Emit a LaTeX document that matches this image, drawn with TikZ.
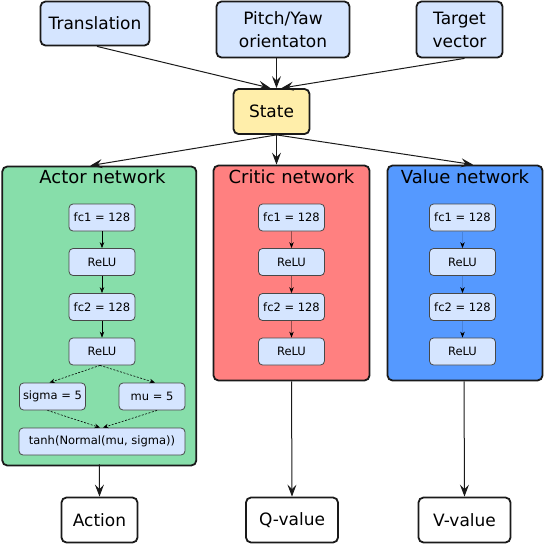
\documentclass[tikz,border=0pt]{standalone}
\usepackage{fontspec}
\setmainfont{DejaVu Sans}
\usetikzlibrary{arrows.meta,calc}
\definecolor{boxblue}{HTML}{D5E5FF}
\definecolor{stateyel}{HTML}{FFEEAA}
\definecolor{actorg}{HTML}{87DEAA}
\definecolor{criticr}{HTML}{FF8080}
\definecolor{valueb}{HTML}{5599FF}
\definecolor{edge}{HTML}{1A1A1A}
\begin{document}
\begin{tikzpicture}[x=1pt,y=-1pt,
  bigbox/.style={draw=edge,line width=1.8pt,rounded corners=5pt,inner sep=0pt,align=center,
    font=\fontsize{17}{23}\selectfont},
  netbox/.style={draw=edge,line width=1.8pt,rounded corners=5pt,inner sep=0pt},
  nettitle/.style={font=\fontsize{18}{22}\selectfont,inner sep=0pt},
  layer/.style={draw=edge!80,line width=0.8pt,fill=boxblue,rounded corners=4pt,inner sep=0pt,
    minimum width=66pt,minimum height=27pt,font=\fontsize{11.5}{13}\selectfont},
  bigarrow/.style={draw=edge,line width=1pt,-{Stealth[length=12pt,width=9pt,inset=4.5pt]}},
  smallarrow/.style={line width=0.6pt,-{Stealth[length=6pt,width=4.5pt,inset=2pt,black]}},
  dasharrow/.style={draw=black,line width=0.6pt,dash pattern=on 2pt off 1.5pt,
    -{Stealth[length=5.5pt,width=4.5pt,inset=2pt]}}
]
\useasboundingbox (0,0) rectangle (544,544);

% inputs
\node[bigbox,fill=boxblue,minimum width=109pt,minimum height=44pt] (trans) at (95,23.5) {Translation};
\node[bigbox,fill=boxblue,minimum width=133pt,minimum height=56pt] (pitch) at (283,29.5) {Pitch/Yaw\\orientaton};
\node[bigbox,fill=boxblue,minimum width=86pt,minimum height=56pt] (target) at (459.5,29.5) {Target\\vector};
\node[bigbox,fill=stateyel,minimum width=76pt,minimum height=45pt] (state) at (271.5,111.5) {State};

% network boxes
\node[netbox,fill=actorg,minimum width=194pt,minimum height=299pt] (actor) at (99.3,316) {};
\node[netbox,fill=criticr,minimum width=156pt,minimum height=215pt] (critic) at (291.5,273) {};
\node[netbox,fill=valueb,minimum width=155pt,minimum height=215pt] (value) at (465,273) {};
\node[nettitle] (atitle) at (102.5,177) {Actor network};
\node[nettitle] (ctitle) at (291.5,177) {Critic network};
\node[nettitle] (vtitle) at (465,177) {Value network};

% actor layers
\node[layer] (afc1) at (102,217.5) {fc1 = 128};
\node[layer] (arelu1) at (102,262) {ReLU};
\node[layer] (afc2) at (102,307) {fc2 = 128};
\node[layer] (arelu2) at (102,351.5) {ReLU};
\node[layer] (sigma) at (52.5,396.5) {sigma = 5};
\node[layer] (mu) at (152,396.5) {mu = 5};
\node[layer,minimum width=166pt] (tanh) at (102,441.5) {tanh(Normal(mu, sigma))};

% critic layers
\node[layer] (cfc1) at (291.5,217.5) {fc1 = 128};
\node[layer] (crelu1) at (291.5,262) {ReLU};
\node[layer] (cfc2) at (291.5,307) {fc2 = 128};
\node[layer] (crelu2) at (291.5,351.5) {ReLU};

% value layers
\node[layer] (vfc1) at (462.5,217.5) {fc1 = 128};
\node[layer] (vrelu1) at (462.5,262) {ReLU};
\node[layer] (vfc2) at (462.5,307) {fc2 = 128};
\node[layer] (vrelu2) at (462.5,351.5) {ReLU};

% outputs
\node[bigbox,fill=white,minimum width=76pt,minimum height=45pt] (action) at (99.5,520) {Action};
\node[bigbox,fill=white,minimum width=92pt,minimum height=45pt] (qval) at (292,520) {Q-value};
\node[bigbox,fill=white,minimum width=92pt,minimum height=45pt] (vval) at (464.5,520) {V-value};

% top arrows
\draw[bigarrow] ([xshift=2pt]trans.south) -- ([xshift=-1pt]state.north);
\draw[bigarrow] ([xshift=-6.5pt]pitch.south) -- ([xshift=5pt]state.north);
\draw[bigarrow] ([xshift=5pt]target.south) -- ([xshift=10pt]state.north);
\draw[bigarrow] ([xshift=5pt]state.south) -- ([xshift=-9pt]actor.north);
\draw[bigarrow] ([xshift=5pt]state.south) -- ([xshift=-15pt]critic.north);
\draw[bigarrow] ([xshift=5pt]state.south) -- ([xshift=8pt]value.north);

% bottom arrows
\draw[bigarrow] ([yshift=2pt]actor.south) -- (action.north);
\draw[bigarrow] (critic.south) -- (qval.north);
\draw[bigarrow] ([xshift=-1pt]value.south) -- (vval.north);

% actor inner arrows
\draw[smallarrow,draw=black] (afc1) -- (arelu1);
\draw[smallarrow,draw=black] (arelu1) -- (afc2);
\draw[smallarrow,draw=black] (afc2) -- (arelu2);
\draw[dasharrow] ([xshift=-2pt]arelu2.south) -- ([xshift=-3pt]sigma.north);
\draw[dasharrow] ([xshift=-2pt]arelu2.south) -- ([xshift=3pt]mu.north);
\draw[dasharrow] ([xshift=-5pt]sigma.south) -- ([xshift=-2pt]tanh.north);
\draw[dasharrow] ([xshift=5pt]mu.south) -- ([xshift=1pt]tanh.north);

% critic inner arrows
\draw[smallarrow,draw=criticr!60!black] (cfc1) -- (crelu1);
\draw[smallarrow,draw=criticr!60!black] (crelu1) -- (cfc2);
\draw[smallarrow,draw=criticr!60!black] (cfc2) -- (crelu2);

% value inner arrows
\draw[smallarrow,draw=valueb!85!black] (vfc1) -- (vrelu1);
\draw[smallarrow,draw=valueb!85!black] (vrelu1) -- (vfc2);
\draw[smallarrow,draw=valueb!85!black] (vfc2) -- (vrelu2);
\end{tikzpicture}
\end{document}
